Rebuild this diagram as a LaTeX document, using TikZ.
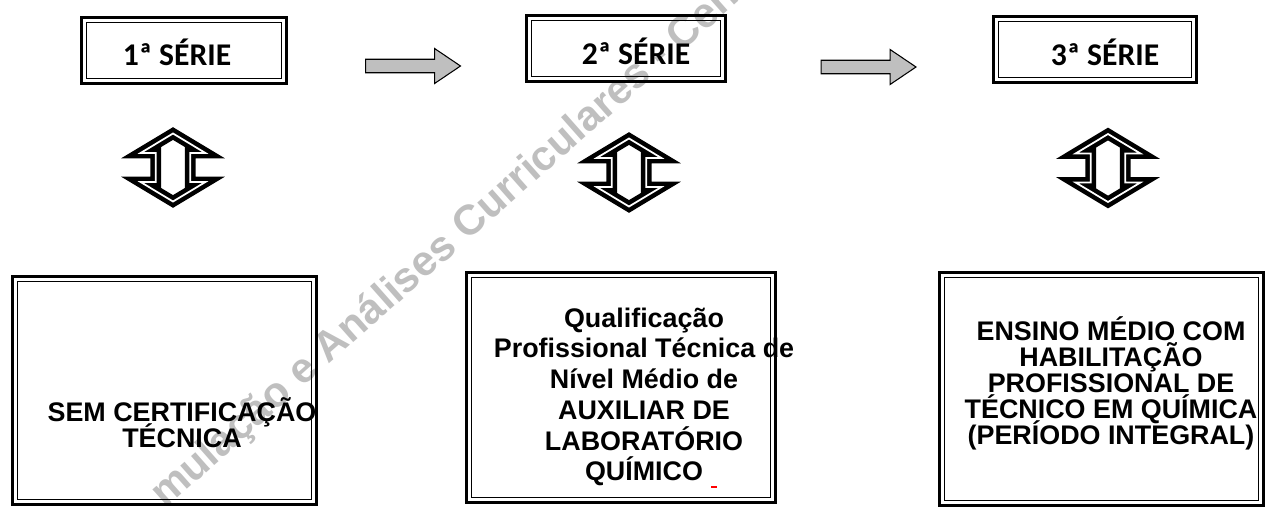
\documentclass[tikz,border=0pt]{standalone}
\usepackage{fontspec}
\setmainfont{Liberation Sans}
\newfontfamily\calibri{Carlito}
\newcommand{\tightlines}{\lineskiplimit=-30pt\relax}
\usetikzlibrary{shapes.arrows}

\begin{document}
\begin{tikzpicture}[
    x=0.02cm, y=-0.02cm,
    framebox/.style={draw, line width=1.6pt, inner sep=0pt,
                     path picture={\draw[line width=0.8pt]
                       ([shift={(2.8pt,-2.8pt)}]path picture bounding box.north west) rectangle
                       ([shift={(-2.8pt,2.8pt)}]path picture bounding box.south east);}},
    seriebox/.style={framebox, minimum height=1.32cm},
    serietext/.style={font=\calibri\bfseries\fontsize{18}{21}\selectfont, anchor=base},
    restext/.style={font=\bfseries\fontsize{15.3}{14.8}\selectfont\tightlines,
                    align=center},
    grayarrow/.style={single arrow, draw, fill=black!25, line width=0.6pt,
                      minimum height=1.9cm, minimum width=0.68cm,
                      inner xsep=0pt, inner ysep=0.125cm,
                      single arrow head extend=0.215cm, single arrow tip angle=68},
    updown/.style={double arrow, rotate=90, draw, double, line width=2.6pt,
                   double distance=1pt, minimum height=1.36cm, minimum width=1.22cm,
                   inner xsep=0pt, inner ysep=0.3cm,
                   double arrow head extend=0.3cm, double arrow tip angle=118}
]
\useasboundingbox (0,0) rectangle (1274,507);

% watermark
\node[black!25, rotate=41.5, font=\bfseries\fontsize{24}{24}\selectfont] (wm) at (446, 246)
    {mulação e Análises Curriculares - Cen};

% --- top row: series ---
\node[seriebox, minimum width=4.1cm]  (s1) at (184, 50.5) {};
\node[seriebox, minimum width=3.98cm] (s2) at (626, 48.5) {};
\node[seriebox, minimum width=4.06cm] (s3) at (1095, 49.5) {};
\node[serietext] (s1t) at (177, 65) {1ª SÉRIE};
\node[serietext] (s2t) at (636, 64) {2ª SÉRIE};
\node[serietext] (s3t) at (1105, 65) {3ª SÉRIE};

% arrows between series
\node[grayarrow] (a12) at (408, 66) {};
\node[grayarrow] (a23) at (863.5, 67) {};

% --- double arrows ---
\node[updown] (u1) at (173, 167.5) {};
\node[updown] (u2) at (629, 172.5) {};
\node[updown] (u3) at (1108, 168) {};

% --- bottom row: results ---
\node[framebox, minimum width=6.08cm, minimum height=4.56cm] (r1) at (164.5, 390.5) {};
\node[framebox, minimum width=6.18cm, minimum height=4.6cm]  (r2) at (621, 387.5) {};
\node[framebox, minimum width=6.48cm, minimum height=4.66cm] (r3) at (1101.5, 389) {};

\node[restext] (r1t) at (182, 423) {SEM CERTIFICAÇÃO\\TÉCNICA};
\node[restext, font=\bfseries\fontsize{15.3}{17.5}\selectfont] (r2t) at (644, 397)
    {Qualificação\\Profissional Técnica de\\Nível Médio de\\AUXILIAR DE\\LABORATÓRIO\\QUÍMICO};
\node[restext] (r3t) at (1111, 383)
    {ENSINO MÉDIO COM\\HABILITAÇÃO\\PROFISSIONAL DE\\TÉCNICO EM QUÍMICA\\(PERÍODO INTEGRAL)};
\draw[red, line width=0.7pt] (711,487) -- (717,487);

\end{tikzpicture}
\end{document}
